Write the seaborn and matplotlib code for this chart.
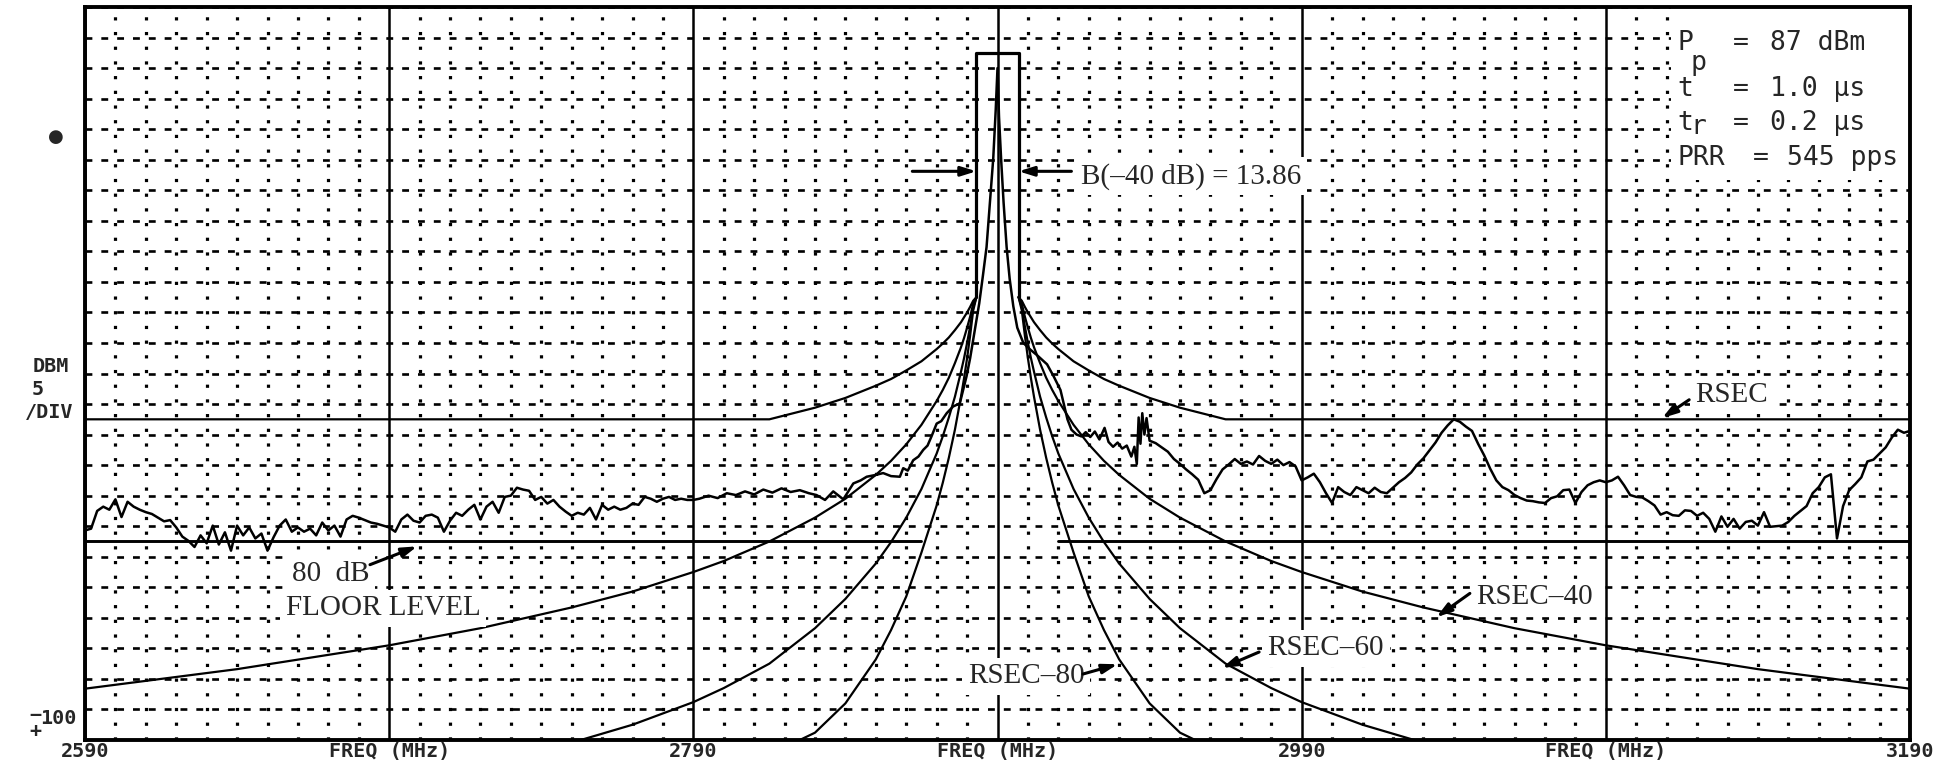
import numpy as np
import pandas as pd
import matplotlib.pyplot as plt
import seaborn as sns
from matplotlib.patches import Rectangle

sns.set_style("white")
plt.rcParams['font.family'] = ['DejaVu Sans']

# ---------------- data ----------------
center_f = 2890
peak_level = 12.5
rsec_level = -47.5
floor_level = -67.5
bw_40 = 13.86
floor_gap = (2865, 2910)

# measured spectrum, far left (2 MHz steps 2590..2790)
left_freq = np.arange(2590, 2791, 2)
left_level = [
    -65.7, -65.4, -62.5, -61.8, -62.3, -60.6, -63.5, -61.0, -61.8, -62.3,
    -62.7, -63.0, -63.6, -64.2, -64.0, -65.2, -66.7, -67.4, -68.4, -66.5,
    -67.8, -64.9, -68.0, -66.0, -69.0, -64.9, -66.5, -65.2, -67.0, -66.2,
    -69.0, -66.8, -64.9, -63.9, -65.9, -65.2, -65.9, -65.4, -66.5, -64.4,
    -65.7, -64.9, -66.7, -63.9, -63.3, -63.6, -64.0, -64.4, -64.6, -64.9,
    -65.2, -65.9, -63.9, -63.1, -64.1, -64.4, -63.3, -63.1, -63.6, -65.9,
    -64.1, -62.8, -63.3, -62.3, -61.5, -63.9, -61.8, -61.0, -62.8, -60.2,
    -60.0, -58.7, -59.0, -59.2, -60.7, -60.2, -61.3, -60.7, -61.8, -62.6,
    -63.3, -62.8, -63.1, -62.0, -63.9, -61.5, -62.3, -61.8, -62.3, -62.0,
    -61.3, -61.5, -60.2, -60.5, -61.0, -60.5, -60.2, -60.7, -60.5, -60.7,
    -60.7,
]

# measured spectrum around the carrier
mid_freq = [
    2792, 2795, 2798, 2801, 2804, 2807, 2810, 2813, 2816, 2819,
    2822, 2825, 2828, 2830.5, 2833.3, 2836, 2839.3, 2842.6, 2845, 2847,
    2850, 2852.4, 2855, 2857.9, 2859, 2860.5, 2862.3, 2864, 2865.6, 2867,
    2868.3, 2870, 2871.5, 2873.3, 2875.4, 2877.6, 2878.7, 2879.8, 2881, 2882.5,
    2884, 2885.2, 2886.4, 2887.6, 2888.6, 2889.4, 2890, 2890.5, 2891.2, 2892,
    2893, 2894, 2895.2, 2896.5, 2898.5, 2900.8, 2903, 2906.3, 2908.5, 2910.7,
    2912, 2913, 2914.3, 2916, 2917.6, 2919, 2920.5, 2922, 2923.5, 2925.2,
    2926.5, 2928, 2929.5, 2931, 2932.5, 2934, 2935, 2935.8, 2936.4, 2937,
    2937.6, 2938.3, 2939, 2940,
]
mid_level = [
    -60.5, -60.0, -60.4, -59.6, -59.9, -59.3, -59.8, -59.0, -59.5, -58.8,
    -59.4, -59.1, -59.6, -59.9, -60.7, -59.3, -60.6, -58.0, -57.5, -56.9,
    -56.6, -56.3, -56.8, -56.9, -55.5, -55.9, -54.2, -53.6, -52.5, -51.8,
    -50.3, -48.2, -47.8, -46.5, -45.4, -44.9, -42.7, -40.5, -37.5, -33.0,
    -28.5, -24.0, -19.3, -11.5, -4.8, 3.0, 10.0, 2.0, -5.0, -12.0,
    -19.3, -24.5, -29.0, -32.5, -35.0, -36.1, -37.0, -38.5, -40.5, -42.7,
    -45.4, -47.5, -49.2, -50.0, -50.3, -49.6, -50.4, -49.5, -50.8, -48.9,
    -51.2, -52.0, -51.3, -52.3, -51.8, -53.6, -52.0, -54.8, -47.2, -51.5,
    -46.5, -50.0, -47.3, -51.0,
]

# measured spectrum, far right (2 MHz steps 2942..3190)
right_freq = np.arange(2942, 3191, 2)
right_level = [
    -51.4, -52.1, -52.8, -54.0, -54.8, -55.7, -56.5, -57.4, -59.6, -59.1,
    -57.3, -55.7, -54.9, -54.0, -54.8, -54.4, -54.9, -53.5, -54.3, -54.8,
    -54.1, -55.0, -54.5, -55.2, -57.5, -57.0, -56.4, -57.8, -59.6, -61.2,
    -58.6, -59.4, -59.9, -58.6, -59.1, -59.6, -58.7, -59.4, -59.6, -58.7,
    -57.8, -57.1, -56.2, -54.9, -53.9, -52.6, -51.3, -49.7, -48.5, -47.5,
    -47.9, -48.7, -49.4, -51.5, -53.4, -55.6, -57.5, -58.6, -59.1, -59.9,
    -60.4, -60.8, -60.9, -61.1, -61.2, -60.4, -60.1, -59.1, -59.0, -61.2,
    -59.4, -58.3, -57.8, -57.5, -57.8, -57.5, -56.9, -58.3, -59.9, -60.2,
    -60.3, -60.9, -61.6, -63.1, -62.7, -63.2, -63.3, -62.4, -62.5, -63.3,
    -62.8, -63.8, -65.9, -63.4, -65.1, -63.8, -65.4, -64.3, -64.1, -64.9,
    -62.7, -65.1, -65.0, -64.9, -64.3, -63.3, -62.5, -61.7, -59.6, -58.6,
    -57.0, -56.5, -67.0, -61.7, -59.1, -58.1, -57.0, -54.4, -54.1, -53.1,
    -52.1, -50.5, -49.2, -49.7, -49.4,
]

# emission masks: offset from carrier (MHz) and level (dB)
mask_offset = [6.93, 8, 9, 10, 11, 12, 14, 16, 18, 20, 25, 30, 35, 40,
               50, 60, 75, 90, 100, 120, 140, 170, 200, 250, 300]
rsec_mask = [-27.5, -28.1, -29.1, -30.0, -30.8, -31.6, -32.9, -34.1, -35.1,
             -36.0, -38.0, -39.5, -40.9, -42.0, -44.0, -45.6, -47.5, -47.5,
             -47.5, -47.5, -47.5, -47.5, -47.5, -47.5, -47.5]
rsec40_mask = [-27.5, -28.6, -30.7, -32.5, -34.2, -35.7, -38.3, -40.7, -42.7,
               -44.5, -48.4, -51.6, -54.3, -56.6, -60.5, -63.6, -67.5, -70.7,
               -72.5, -75.7, -78.3, -81.7, -84.5, -88.4, -91.6]
rsec60_offset = [6.93, 8, 9, 10, 11, 12, 14, 16, 18, 20, 25, 30, 35, 40,
                 50, 60, 75, 90, 100, 120, 137]
rsec60_mask = [-27.5, -29.2, -32.3, -35.0, -37.5, -39.7, -43.8, -47.2, -50.3,
               -53.1, -58.9, -63.6, -67.6, -71.1, -76.9, -81.7, -87.5, -91.5,
               -93.8, -97.5, -100.0]
rsec80_offset = [6.93, 8, 9, 10, 11, 12, 14, 16, 18, 20, 25, 30, 35, 40,
                 50, 60, 65]
rsec80_mask = [-27.5, -29.7, -33.8, -37.5, -40.8, -43.8, -49.2, -53.8, -57.9,
               -61.6, -69.3, -76.5, -82.0, -86.8, -94.0, -98.8, -100.0]

# ---------------- figure ----------------
W, H = 1947, 762
fig = plt.figure(figsize=(W / 100, H / 100), dpi=100)
ax = fig.add_axes([85 / W, 22 / H, 1825 / W, 733 / H])
ax.set_xlim(2590, 3190)
ax.set_ylim(-100, 20)

ax.set_xticks(np.arange(2590, 3191, 100))
ax.set_xticks(np.arange(2590, 3191, 10), minor=True)
ax.set_yticks(np.arange(-100, 21, 5))
ax.tick_params(which='both', length=0, labelbottom=False, labelleft=False)
ax.set_axisbelow(True)
ax.grid(which='major', axis='x', color='black', lw=1.8, ls='-')
ax.grid(which='minor', axis='x', color='black', lw=2.3, ls=(0, (1.0, 3.6)))
ax.grid(which='major', axis='y', color='black', lw=1.9, ls=(0, (2.6, 3.4)))
for s in ax.spines.values():
    s.set_color('black')
    s.set_linewidth(2.8)


def draw(x, y, lw=1.5):
    sns.lineplot(x=np.asarray(x, float), y=np.asarray(y, float), ax=ax,
                 color='black', lw=lw, sort=False, estimator=None,
                 legend=False, zorder=3)


# masks, both sides of the carrier
for sign in (-1, 1):
    draw(center_f + sign * np.array(mask_offset), rsec_mask, 1.6)
    draw(center_f + sign * np.array(mask_offset), rsec40_mask, 1.6)
    draw(center_f + sign * np.array(rsec60_offset), rsec60_mask, 1.6)
    draw(center_f + sign * np.array(rsec80_offset), rsec80_mask, 1.6)

# -40 dB bandwidth box
half = bw_40 / 2
draw([center_f - half, center_f - half, center_f + half, center_f + half],
     [peak_level - 40, peak_level, peak_level, peak_level - 40], 2.3)

# 80 dB floor level
draw([2590, floor_gap[0]], [floor_level, floor_level], 2.1)
draw([floor_gap[1], 3190], [floor_level, floor_level], 2.1)

# measured spectrum
trace = pd.DataFrame({
    'freq': np.concatenate([left_freq, mid_freq, right_freq]),
    'level': np.concatenate([left_level, mid_level, right_level]),
})
sns.lineplot(data=trace, x='freq', y='level', ax=ax, color='black', lw=1.8,
             sort=False, estimator=None, legend=False, zorder=4)
ax.set_xlabel('')
ax.set_ylabel('')

# parameter block (white background)
ax.add_patch(Rectangle((3111.5, -8.3), 3190 - 3111.5, 28.3,
                       facecolor='white', edgecolor='none', zorder=2))
mono = 'DejaVu Sans Mono'
pk = dict(family=mono, fontsize=19, va='center', ha='left', zorder=6)
ax.text(3113.4, 14.1, 'P', **pk)
ax.text(3117.8, 10.8, 'p', **pk)
ax.text(3131.7, 14.1, '=', **pk)
ax.text(3143.9, 14.1, '87 dBm', **pk)
ax.text(3113.4, 6.6, 't', **pk)
ax.text(3131.7, 6.6, '=', **pk)
ax.text(3143.9, 6.6, '1.0 μs', **pk)
ax.text(3113.4, 1.0, 't', **pk)
ax.text(3117.8, 0.4, 'r', **pk)
ax.text(3131.7, 1.0, '=', **pk)
ax.text(3143.9, 1.0, '0.2 μs', **pk)
ax.text(3113.4, -4.7, 'PRR', **pk)
ax.text(3138.2, -4.7, '=', **pk)
ax.text(3149.6, -4.7, '545 pps', **pk)

# annotations
serif = 'Liberation Serif'
box = dict(facecolor='white', edgecolor='none', pad=4)
tk = dict(family=serif, fontsize=21, va='center', ha='left', zorder=5,
          bbox=box)
arrow = dict(arrowstyle='-|>,head_length=0.9,head_width=0.28',
             color='black', lw=2.2, shrinkA=0, shrinkB=0)


def pointer(tail, tip):
    ax.annotate('', xy=tip, xytext=tail, arrowprops=arrow, zorder=6)


ax.text(2917.5, -7.7, 'B(–40 dB) = 13.86', **tk)
pointer((2862.0, -6.9), (center_f - half, -6.9))
pointer((2914.3, -6.9), (center_f + half, -6.9))

ax.text(3119.5, -43.5, 'RSEC', **tk)
pointer((3117.4, -44.3), (3108.5, -47.3))
ax.text(3047.3, -76.6, 'RSEC–40', **tk)
pointer((3045.3, -76.0), (3034.3, -79.9))
ax.text(2978.8, -85.0, 'RSEC–60', **tk)
pointer((2976.0, -85.6), (2963.8, -88.2))
ax.text(2880.3, -89.6, 'RSEC–80', **tk)
pointer((2918.1, -89.2), (2929.5, -87.6))
ax.text(2658.1, -72.8, '80  dB', **tk)
pointer((2683.7, -71.3), (2699.2, -68.3))
ax.text(2656.0, -78.4, 'FLOOR LEVEL', **tk)

# axis labels in the plotter's own lettering
lab = dict(family=mono, fontweight='bold', fontsize=14.5, ha='center',
           va='center')
xt = ax.get_xaxis_transform()
for f, s in [(2590, '2590'), (2690, 'FREQ (MHz)'), (2790, '2790'),
             (2890, 'FREQ (MHz)'), (2990, '2990'), (3090, 'FREQ (MHz)'),
             (3190, '3190')]:
    ax.text(f, -0.016, s, transform=xt, clip_on=False, **lab)

fig.text(56 / W, 1 - 137 / H, '●', fontsize=13, ha='center', va='center')
fig.text(51 / W, 1 - 367 / H, 'DBM', **lab)
fig.text(38 / W, 1 - 389 / H, '5', **lab)
fig.text(49 / W, 1 - 412 / H, '/DIV', **lab)
fig.text(35 / W, 1 - 716 / H, '−', **lab)
fig.text(35 / W, 1 - 732 / H, '+', **lab)
fig.text(58 / W, 1 - 719 / H, '100', **lab)

fig.savefig('out.png', dpi=100, facecolor='white')
plt.close(fig)
